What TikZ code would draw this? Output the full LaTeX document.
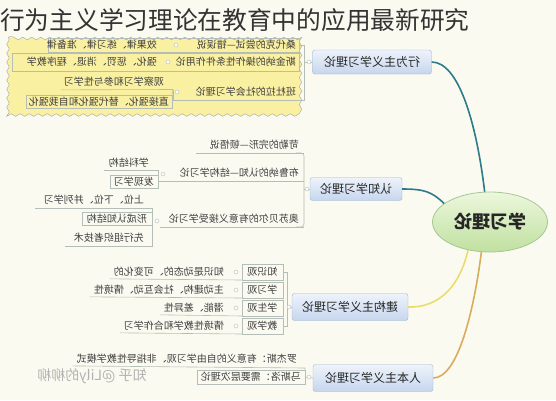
\documentclass[tikz,border=0pt]{standalone}
\usepackage{fontspec}
\usepackage{graphicx}
\setmainfont{Noto Sans CJK SC}
\usetikzlibrary{shapes.geometric,decorations.pathmorphing}
\newcommand\mirtxt[1]{\reflectbox{#1}}
\definecolor{bgc}{HTML}{FBFAF1}
\definecolor{cloudy}{HTML}{FAF0A2}
\definecolor{bt}{HTML}{EEF3FB}
\definecolor{bb}{HTML}{C6D6EE}
\definecolor{bbd}{HTML}{9FB3CF}
\definecolor{gt}{HTML}{ECF7DC}
\definecolor{gb}{HTML}{C0E0A0}
\definecolor{gbd}{HTML}{A5C796}
\definecolor{tealc}{HTML}{2D7A88}
\definecolor{yelc}{HTML}{EEDC6A}
\definecolor{goldc}{HTML}{D8AC5A}
\definecolor{linec}{HTML}{B5BDB8}
\begin{document}
\begin{tikzpicture}[x=1pt,y=-1pt,
  lf/.style={font=\fontsize{10}{11}\selectfont, text=black!75, inner sep=1pt},
  branch/.style={draw=bbd, rounded corners=2.5pt, top color=bt, bottom color=bb,
    font=\fontsize{12}{13}\selectfont, text=black!85, inner sep=2pt},
  uline/.style={draw=linec, line width=0.6pt},
  knob/.style={circle, draw=linec, fill=white, inner sep=0pt, minimum size=4pt},
  cbox/.style={lf, draw=linec, minimum height=16pt, minimum width=41pt}]
\useasboundingbox (0,0) rectangle (556,400);
\fill[bgc] (0,0) rectangle (556,400);

% title
\node[anchor=west, font=\fontsize{24.7}{26}\selectfont, text=black!80, inner sep=0pt] (title) at (0,20) {行为主义学习理论在教育中的应用最新研究};

% watermark
\node[font=\fontsize{14}{14}\selectfont, text=black!30] (wm) at (92,376) {\mirtxt{知乎 @Lily的柳柳}};

% root
\node[ellipse, draw=gbd, line width=0.8pt, top color=gt, bottom color=gb,
  minimum width=115pt, minimum height=60pt, font=\fontsize{18}{19}\selectfont\bfseries, text=black!85] (root) at (490,222) {\mirtxt{学习理论}};

% branches
\node[branch, minimum width=119pt, minimum height=24pt] (b1) at (372,62) {\mirtxt{行为主义学习理论}};
\node[branch, minimum width=92pt, minimum height=23pt] (b2) at (356,189) {\mirtxt{认知学习理论}};
\node[branch, minimum width=116pt, minimum height=27pt] (b3) at (350,307) {\mirtxt{建构主义学习理论}};
\node[branch, minimum width=120pt, minimum height=27pt] (b4) at (373,378) {\mirtxt{人本主义学习理论}};

\draw[tealc, line width=1.6pt] (b1.east) .. controls (458,62) and (476,120) .. (root.100);
\draw[tealc, line width=1.6pt] (b2.east) .. controls (425,189) and (432,192) .. (root.158);
\draw[yelc, line width=1.6pt] (b3.east) .. controls (440,308) and (460,285) .. (root.232);
\draw[goldc, line width=1.6pt] (b4.east) .. controls (458,378) and (474,310) .. (root.254);

% ---------- branch 1 (cloud) ----------
\path[draw=black!35, fill=cloudy, decorate, decoration={snake, segment length=9pt, amplitude=1.3pt}] (8,37) rectangle (302,113);
\draw[linec] (48,38) rectangle (299,52);
\draw[linec] (12,53) rectangle (299,71);
\node[lf, anchor=east] (l11) at (297,45) {\mirtxt{桑代克的尝试—错误说}};
\node[lf, anchor=east] (m11) at (158,45) {\mirtxt{效果律、练习律、准备律}};
\node[lf, anchor=east] (l12) at (297,62) {\mirtxt{斯金纳的操作性条件作用论}};
\node[lf, anchor=east] (m12) at (158,62) {\mirtxt{强化、惩罚、消退、程序教学}};
\node[lf, anchor=east] (l13) at (297,92) {\mirtxt{班杜拉的社会学习理论}};
\node[lf, anchor=east] (m13) at (165,82) {\mirtxt{观察学习和参与性学习}};
\node[lf, anchor=east, draw=linec, inner xsep=3pt, inner ysep=2pt] (m14) at (172,102) {\mirtxt{直接强化、替代强化和自我强化}};
\coordinate (k13) at (177,92);
\draw[uline] (299,100) -- (173,100);
\draw[uline] (m13.south west) ++(-2,2) coordinate (u13) -- (173,89.5) -- (m14.north east);
\draw[uline] (173,100) -- (173,89.5);
\node[knob] (n11) at (176,45) {};
\node[knob] (n12) at (168,62) {};
\node[knob] (n13) at (k13) {};
\draw[uline] (299,45) -- (304,45) -- (304,100) -- (299,100);
\draw[uline] (304,62) -- (b1.west);
\node[knob] (n1) at (309,62) {};

% ---------- branch 2 ----------
\node[lf, anchor=east] (c21) at (300,145) {\mirtxt{苛勒的完形—顿悟说}};
\node[lf, anchor=east] (c22) at (300,173) {\mirtxt{布鲁纳的认知—结构学习论}};
\node[lf, anchor=east] (c23) at (300,219) {\mirtxt{奥苏贝尔的有意义接受学习论}};
\node[lf, anchor=east] (d1) at (150,163) {\mirtxt{学科结构}};
\node[lf, anchor=east, draw=linec, inner xsep=4pt, inner ysep=2pt] (d2) at (158,182) {\mirtxt{发现学习}};
\node[lf, anchor=east] (d3) at (145,200) {\mirtxt{上位、下位、并列学习}};
\node[lf, anchor=east, draw=linec, inner xsep=5pt, inner ysep=2pt] (d4) at (152,219) {\mirtxt{形成认知结构}};
\node[lf, anchor=east] (d5) at (145,238) {\mirtxt{先行组织者技术}};
\draw[uline] (196,153) -- (304,153);
\draw[uline] (158,181) -- (304,181);
\draw[uline] (160,227) -- (304,227);
\draw[uline, rounded corners=3pt] (296,153) -- (304,153) -- (304,227) -- (296,227);
\draw[uline] (304,189) -- (b2.west);
\node[knob] (n2) at (307,189) {};
\draw[uline] (104,170) -- (158,170) -- (158,181);
\node[knob] (n22) at (163,174) {};
\draw[uline] (35,208) -- (152,208) -- (152,246) -- (65,246);
\node[knob] (n23) at (157,221) {};

% ---------- branch 3 ----------
\node[cbox, anchor=east] (k1) at (283,272) {\mirtxt{知识观}};
\node[cbox, anchor=east] (k2) at (283,290) {\mirtxt{学习观}};
\node[cbox, anchor=east] (k3) at (283,308) {\mirtxt{学生观}};
\node[cbox, anchor=east] (k4) at (283,326) {\mirtxt{教学观}};
\node[lf, anchor=east] (e1) at (225,272) {\mirtxt{知识是动态的、可变化的}};
\node[lf, anchor=east] (e2) at (225,290) {\mirtxt{主动建构、社会互动、情境性}};
\node[lf, anchor=east] (e3) at (225,308) {\mirtxt{潜能、差异性}};
\node[lf, anchor=east] (e4) at (225,326) {\mirtxt{情境性教学和合作学习}};
\draw[uline] (e1.south west) ++(-3,1) -- (242,280);
\draw[uline] (e2.south west) ++(-3,1) -- (242,298);
\draw[uline] (e3.south west) ++(-3,1) -- (242,316);
\draw[uline] (e4.south west) ++(-3,1) -- (242,334);
\node[knob] (q1) at (236,272) {};
\node[knob] (q2) at (236,290) {};
\node[knob] (q3) at (236,308) {};
\node[knob] (q4) at (236,326) {};
\draw[uline] (283,272) -- (287,272) -- (287,326) -- (283,326);
\draw[uline] (287,307) -- (b3.west);
\node[knob] (n3) at (289,307) {};

% ---------- branch 4 ----------
\node[lf, anchor=east] (r1) at (298,359) {\mirtxt{罗杰斯：有意义的自由学习观、非指导性教学模式}};
\node[lf, anchor=east, draw=linec, inner xsep=4pt, inner ysep=2.5pt] (r2) at (305,377) {\mirtxt{马斯洛：需要层次理论}};
\draw[uline] (r1.south west) ++(-3,1) -- (305,368) -- (r2.north east);
\draw[uline] (305,377) -- (b4.west);
\node[knob] (n4) at (309,377) {};
\end{tikzpicture}
\end{document}
